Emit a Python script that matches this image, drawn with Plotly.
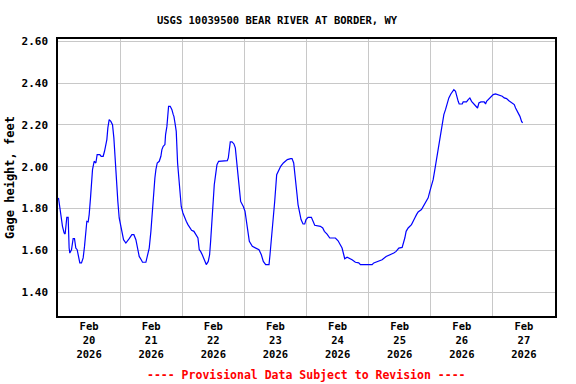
import datetime as dt
import plotly.graph_objects as go

# ---- data (hours after 2026-02-20 00:00, gage height in feet) ----
hours = [0.18, 0.70, 1.21, 1.73, 2.37, 2.76, 3.40, 3.92, 4.30, 4.56, 5.21, 5.85, 6.37, 6.88, 7.40, 7.91,
         8.43, 9.08, 9.72, 10.24, 10.75, 11.14, 11.65, 12.04, 12.56, 12.81, 13.33, 13.97, 14.62, 15.13,
         16.16, 16.68, 17.45, 17.97, 18.48, 18.87, 19.26, 19.77, 20.42, 21.06, 21.58, 22.09, 22.61, 23.12,
         23.64, 24.28, 24.80, 25.32, 26.22, 26.86, 27.51, 28.54, 29.31, 30.09, 30.86, 31.37, 32.15, 32.66,
         33.95, 34.60, 35.24, 35.89, 36.27, 36.53, 36.92, 37.43, 37.82, 38.33, 39.11, 39.75, 40.14, 40.65,
         41.30, 41.56, 42.07, 42.33, 42.72, 43.36, 44.01, 44.52, 44.78, 45.29, 45.68, 46.20, 46.58, 47.10,
         47.61, 48.26, 48.90, 49.55, 50.19, 50.97, 51.61, 52.51, 53.29, 54.06, 54.57, 55.09, 55.73, 56.38,
         57.28, 58.05, 58.57, 58.96, 59.35, 59.86, 60.37, 60.89, 61.41, 62.05, 64.11, 65.40, 65.79, 66.18,
         66.56, 67.21, 67.98, 68.50, 69.27, 69.79, 70.56, 71.59, 72.24, 72.62, 73.14, 73.91, 75.07, 76.36,
         77.65, 78.55, 79.32, 80.23, 81.52, 81.90, 82.42, 83.19, 83.71, 84.48, 85.38, 86.03, 87.06, 88.60,
         89.89, 90.41, 91.05, 91.44, 91.96, 92.34, 92.73, 93.24, 93.89, 94.66, 95.31, 95.82, 96.60, 97.89,
         98.53, 99.18, 101.36, 102.27, 102.91, 103.94, 104.98, 107.17, 108.20, 109.10, 109.74, 110.39,
         110.77, 111.68, 112.32, 113.61, 114.90, 116.19, 116.83, 121.35, 121.99, 123.67, 125.21, 126.76,
         128.43, 129.72, 130.63, 131.66, 132.95, 133.33, 133.98, 134.49, 135.27, 136.56, 137.20, 137.84,
         138.49, 139.13, 140.42, 141.45, 142.36, 143.00, 143.64, 144.29, 144.93, 145.58, 146.22, 146.87,
         147.51, 148.16, 148.80, 149.06, 149.70, 150.35, 150.99, 151.76, 152.41, 152.92, 153.57, 154.09,
         154.60, 154.99, 156.15, 156.53, 157.82, 158.47, 159.11, 159.76, 160.40, 161.05, 161.69, 162.08,
         162.60, 163.37, 164.66, 165.17, 165.56, 166.20, 167.23, 168.13, 169.04, 169.81, 170.71, 171.62,
         172.39, 173.29, 174.19, 175.22, 176.26, 176.77, 177.55, 178.45, 179.09, 179.48]
gage_ft = [1.851, 1.803, 1.739, 1.715, 1.683, 1.678, 1.758, 1.758, 1.611, 1.587, 1.603, 1.656, 1.656, 1.611,
           1.603, 1.564, 1.540, 1.540, 1.564, 1.619, 1.683, 1.739, 1.736, 1.771, 1.851, 1.914, 1.986, 2.026,
           2.018, 2.058, 2.058, 2.050, 2.050, 2.074, 2.098, 2.130, 2.186, 2.225, 2.217, 2.201, 2.138, 2.026,
           1.930, 1.834, 1.755, 1.707, 1.675, 1.651, 1.635, 1.643, 1.656, 1.675, 1.675, 1.651, 1.611, 1.571,
           1.555, 1.543, 1.543, 1.571, 1.611, 1.691, 1.755, 1.834, 1.882, 1.946, 1.986, 2.018, 2.026, 2.050,
           2.082, 2.098, 2.106, 2.154, 2.193, 2.241, 2.289, 2.289, 2.273, 2.249, 2.241, 2.201, 2.169, 2.018,
           1.970, 1.882, 1.810, 1.779, 1.755, 1.739, 1.723, 1.707, 1.696, 1.691, 1.675, 1.659, 1.603, 1.595,
           1.579, 1.555, 1.532, 1.547, 1.579, 1.643, 1.723, 1.803, 1.914, 1.962, 2.010, 2.026, 2.026, 2.029,
           2.042, 2.074, 2.119, 2.119, 2.109, 2.090, 2.010, 1.930, 1.834, 1.810, 1.787, 1.755, 1.691, 1.643,
           1.619, 1.611, 1.603, 1.579, 1.547, 1.532, 1.532, 1.579, 1.643, 1.739, 1.834, 1.962, 1.986, 2.002,
           2.018, 2.034, 2.039, 2.039, 2.018, 1.962, 1.914, 1.867, 1.819, 1.787, 1.747, 1.726, 1.726, 1.747,
           1.758, 1.758, 1.739, 1.720, 1.715, 1.707, 1.691, 1.678, 1.659, 1.659, 1.646, 1.627, 1.611, 1.579,
           1.560, 1.567, 1.564, 1.555, 1.543, 1.540, 1.532, 1.532, 1.540, 1.547, 1.555, 1.571, 1.579, 1.587,
           1.595, 1.611, 1.614, 1.627, 1.659, 1.691, 1.707, 1.723, 1.736, 1.755, 1.771, 1.784, 1.795, 1.819,
           1.834, 1.851, 1.882, 1.914, 1.938, 1.986, 2.034, 2.082, 2.138, 2.186, 2.217, 2.249, 2.273, 2.305,
           2.329, 2.348, 2.358, 2.369, 2.361, 2.332, 2.313, 2.300, 2.300, 2.310, 2.310, 2.321, 2.329, 2.313,
           2.305, 2.297, 2.289, 2.281, 2.305, 2.310, 2.310, 2.300, 2.313, 2.321, 2.337, 2.345, 2.348, 2.345,
           2.342, 2.337, 2.329, 2.326, 2.316, 2.305, 2.297, 2.281, 2.265, 2.241, 2.217, 2.210]

start = dt.datetime(2026, 2, 20)
day_labels = ["Feb<br>20<br>2026", "Feb<br>21<br>2026", "Feb<br>22<br>2026", "Feb<br>23<br>2026",
              "Feb<br>24<br>2026", "Feb<br>25<br>2026", "Feb<br>26<br>2026", "Feb<br>27<br>2026"]
y_ticks = [1.40, 1.60, 1.80, 2.00, 2.20, 2.40, 2.60]
y_range = [1.286, 2.611]

times = [start + dt.timedelta(hours=h) for h in hours]
noon_ticks = [start + dt.timedelta(days=i, hours=12) for i in range(len(day_labels))]
midnights = [start + dt.timedelta(days=i) for i in range(len(day_labels) + 1)]

FONT = "DejaVu Sans Mono"
GRID = "#c8c8c8"

fig = go.Figure()
fig.add_trace(go.Scatter(x=times, y=gage_ft, mode="lines",
                         line=dict(color="#0000ff", width=1.2), showlegend=False,
                         hoverinfo="skip"))

fig.update_layout(
    width=576, height=384,
    margin=dict(l=58, r=21, t=39, b=68),
    paper_bgcolor="white", plot_bgcolor="white",
    font=dict(family=FONT, size=11, color="black", weight="bold"),
    title=dict(text="USGS 10039500 BEAR RIVER AT BORDER, WY",
               x=0.481, xref="container", xanchor="center",
               y=1 - 20 / 384, yref="container", yanchor="middle",
               font=dict(family=FONT, size=10.5, color="black", weight="bold")),
    xaxis=dict(range=[midnights[0], midnights[-1]], type="date", automargin=False,
               tickmode="array", tickvals=noon_ticks, ticktext=day_labels,
               showgrid=False, ticks="", zeroline=False,
               tickfont=dict(family=FONT, size=10.5, weight="bold"),
               minor=dict(tickmode="array", tickvals=midnights, showgrid=True,
                          gridcolor=GRID, gridwidth=1, ticks=""),
               showline=True, linecolor="black", linewidth=1.5, mirror=True),
    yaxis=dict(range=y_range, tickmode="array", tickvals=y_ticks, automargin=False,
               ticktext=[f"{v:.2f}" for v in y_ticks],
               showgrid=True, gridcolor=GRID, gridwidth=1, zeroline=False,
               ticks="", ticklabelstandoff=6,
               tickfont=dict(family=FONT, size=11, weight="bold"),
               title=dict(text="Gage height, feet", standoff=4,
                          font=dict(family=FONT, size=12, weight="bold")),
               showline=True, linecolor="black", linewidth=1.5, mirror=True),
)

fig.add_annotation(text="---- Provisional Data Subject to Revision ----",
                   xref="paper", yref="paper", x=0.5, y=-(375 - 316) / 277,
                   yanchor="middle", xanchor="center", showarrow=False,
                   font=dict(family=FONT, size=11.5, color="red", weight="bold"))

fig.write_html("out.html", config={"displayModeBar": False},
               post_script="document.body.style.margin='0px';")
